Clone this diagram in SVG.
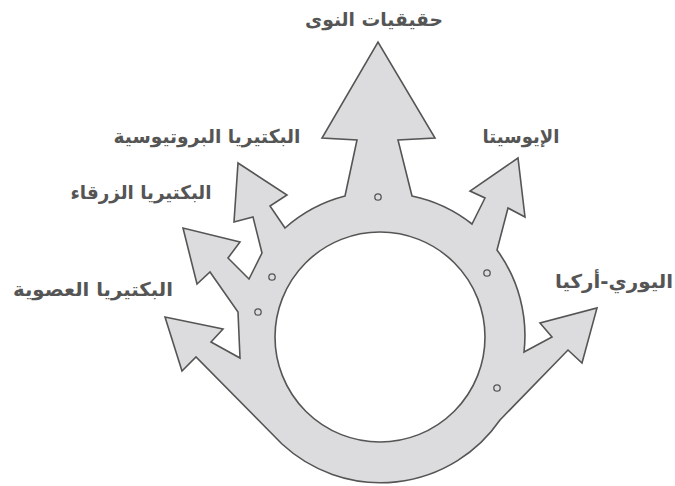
<svg xmlns="http://www.w3.org/2000/svg" width="675" height="486" viewBox="0 0 675 486">
<style>
.shape{fill:#dcdcde;stroke:#555;stroke-width:1.6;stroke-linejoin:miter}
.hole{fill:#fff;stroke:#555;stroke-width:1.6}
.dot{fill:#dcdcde;stroke:#555;stroke-width:1.3}
.lbl{font-family:"DejaVu Sans",sans-serif;font-size:19px;font-weight:bold;fill:#555;text-anchor:middle;direction:rtl}
</style>
<rect width="675" height="486" fill="#fff"/>
<g id="tree">
<path class="shape" d="M285,228 L270,206 L287,195 L238,163 L234,222 L253,217 L262,253 L249,279 L228,258 L240,242 L183,228 L197,284 L210,272 L238,312 L240,358 L211,342 L223,329 L165,317 L182,371 L196,357 L282,444 A145,145 0 0 0 500,420 L568,350 L582,363 L597,308 L540,323 L552,337 L524,352 A145,145 0 0 0 497,250 L508,208 L525,217 L518,158 L470,191 L485,198 L472,224 A145,145 0 0 0 412,196 L398,140 L435,138 L378,42 L322,138 L357,140 L345,196 A145,145 0 0 0 285,228 Z"/>
<circle class="hole" cx="380" cy="337" r="105"/>
</g>
<g id="dots">
<circle class="dot" cx="378" cy="197" r="3.2"/>
<circle class="dot" cx="272" cy="277" r="3.2"/>
<circle class="dot" cx="258" cy="312" r="3.2"/>
<circle class="dot" cx="487" cy="273" r="3.2"/>
<circle class="dot" cx="497" cy="388" r="3.2"/>
</g>
<g id="labels">
<text id="eukaryotes" class="lbl" x="374" y="26" textLength="138" lengthAdjust="spacingAndGlyphs">حقيقيات النوى</text>
<text id="proteobacteria" class="lbl" x="207" y="143" textLength="187" lengthAdjust="spacingAndGlyphs">البكتيريا البروتيوسية</text>
<text id="cyanobacteria" class="lbl" x="141" y="199" textLength="141" lengthAdjust="spacingAndGlyphs">البكتيريا الزرقاء</text>
<text id="bacilli" class="lbl" x="93" y="296" textLength="160" lengthAdjust="spacingAndGlyphs">البكتيريا العصوية</text>
<text id="eocyta" class="lbl" x="521" y="143" textLength="77" lengthAdjust="spacingAndGlyphs">الإيوسيتا</text>
<text id="euryarchaeota" class="lbl" x="614" y="288" textLength="118" lengthAdjust="spacingAndGlyphs">اليوري-أركيا</text>
</g>
<g id="connectors"></g>
</svg>
